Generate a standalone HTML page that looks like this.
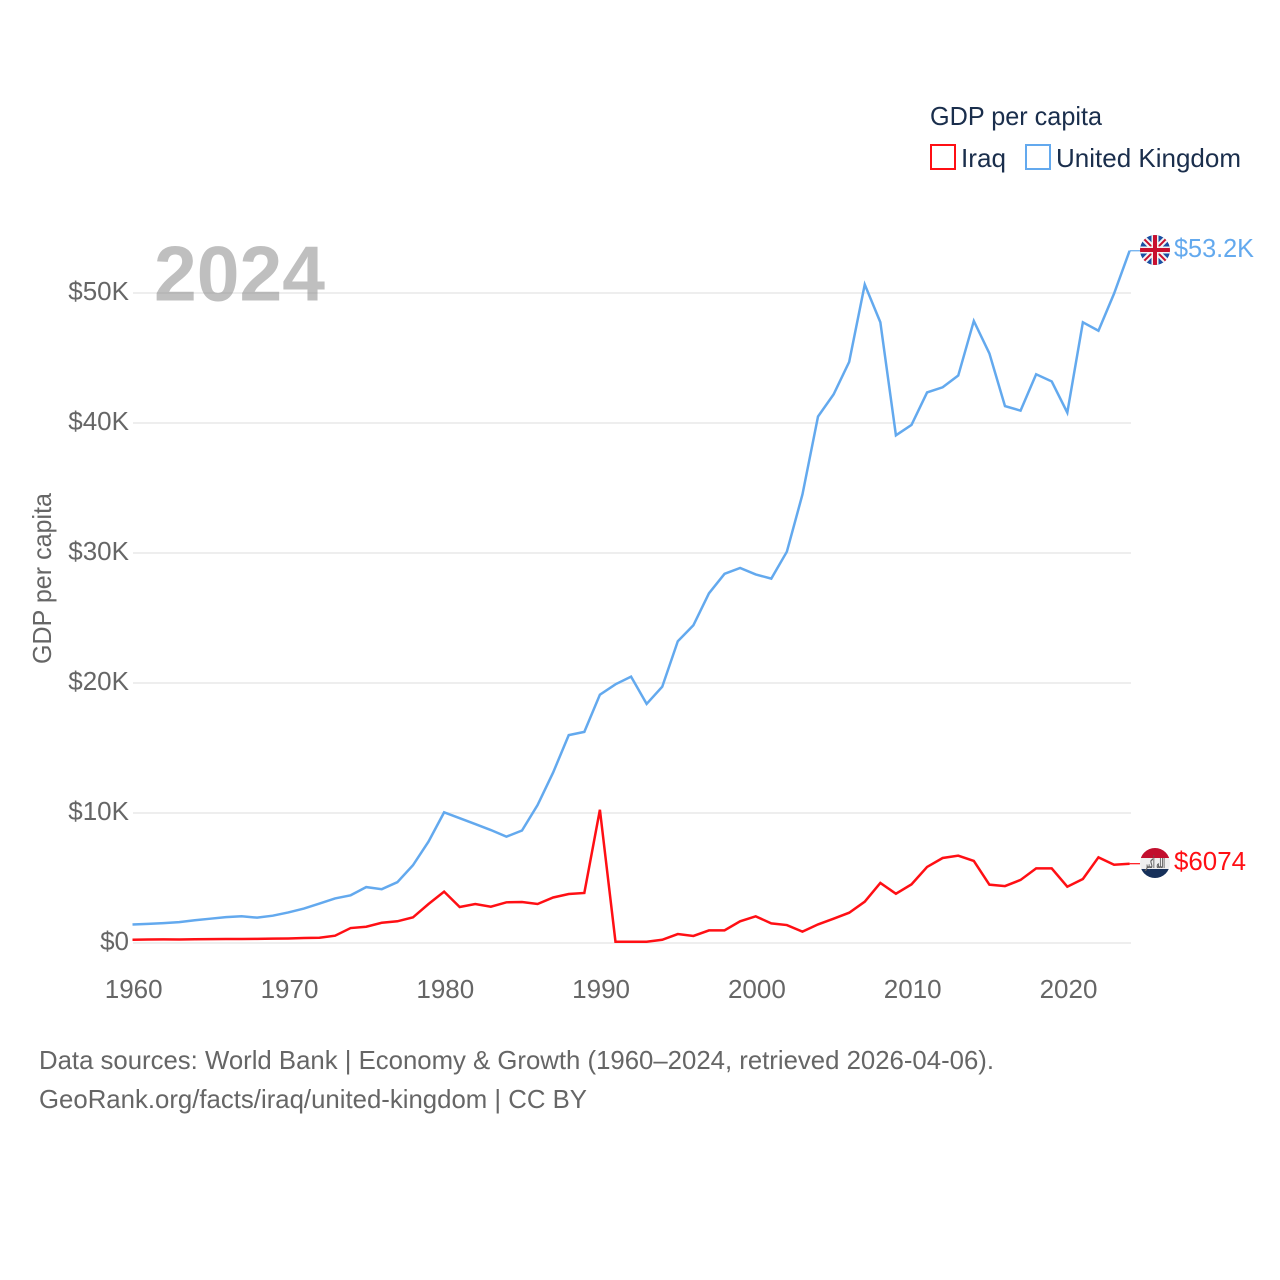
<!DOCTYPE html>
<html lang="en">
<head>
<meta charset="utf-8">
<title>GDP per capita: Iraq and United Kingdom</title>
<style>
  html, body { margin: 0; padding: 0; background: #fff; }
  svg { display: block; font-family: "Liberation Sans", "DejaVu Sans", sans-serif; }
</style>
</head>
<body>
<svg id="chart" xmlns="http://www.w3.org/2000/svg" width="1280" height="1280" viewBox="0 0 1280 1280">
  <defs>
    <clipPath id="uk-clip"><circle cx="1155" cy="250" r="15"/></clipPath>
    <clipPath id="iq-clip"><circle cx="1155" cy="863" r="15"/></clipPath>
  </defs>
  <rect x="0" y="0" width="1280" height="1280" fill="#ffffff"/>
  <g id="grid"></g>
  <g id="y-ticks"></g>
  <g id="x-ticks"></g>
  <text x="154" y="300.5" font-size="78" font-weight="700" fill="#808080" fill-opacity="0.5" textLength="171" lengthAdjust="spacingAndGlyphs">2024</text>
  <text transform="translate(51,578.5) rotate(-90)" text-anchor="middle" font-size="26" fill="#666666" textLength="171" lengthAdjust="spacingAndGlyphs">GDP per capita</text>
  <g id="series"></g>

  <g clip-path="url(#uk-clip)">
    <rect x="1140" y="235" width="30" height="30" fill="#1a4fa3"/>
    <path d="M1140 235 L1170 265 M1170 235 L1140 265" stroke="#f4f4f4" stroke-width="6"/>
    <path d="M1140 235 L1170 265 M1170 235 L1140 265" stroke="#c8102e" stroke-width="2"/>
    <path d="M1155 235 V265 M1140 250 H1170" stroke="#f4f4f4" stroke-width="7"/>
    <path d="M1155 235 V265 M1140 250 H1170" stroke="#c8102e" stroke-width="4"/>
  </g>
  <text x="1174" y="257" font-size="26" fill="#63a9ee" textLength="80" lengthAdjust="spacingAndGlyphs">$53.2K</text>

  <g clip-path="url(#iq-clip)">
    <rect x="1140" y="848" width="30" height="10" fill="#c20f2e"/>
    <rect x="1140" y="858" width="30" height="11" fill="#efefef"/>
    <rect x="1140" y="869" width="30" height="10" fill="#16305a"/>
    <text x="1155" y="868" text-anchor="middle" font-size="13" font-weight="700" fill="#5f5f5f" font-family="'DejaVu Sans', sans-serif" textLength="20" lengthAdjust="spacingAndGlyphs">الله أكبر</text>
  </g>
  <text x="1174" y="870" font-size="26" fill="#ff0f14" textLength="72" lengthAdjust="spacingAndGlyphs">$6074</text>

  <g>
    <text x="930" y="125" font-size="26" fill="#1a2e4c" textLength="172" lengthAdjust="spacingAndGlyphs">GDP per capita</text>
    <g>
      <rect x="931" y="145" width="24" height="24" fill="none" stroke="#ff0f14" stroke-width="2"/>
      <text x="961" y="167" font-size="26" fill="#1a2e4c" textLength="45" lengthAdjust="spacingAndGlyphs">Iraq</text>
    </g>
    <g>
      <rect x="1026" y="145" width="24" height="24" fill="none" stroke="#63a9ee" stroke-width="2"/>
      <text x="1056" y="167" font-size="26" fill="#1a2e4c" textLength="185" lengthAdjust="spacingAndGlyphs">United Kingdom</text>
    </g>
  </g>

  <text x="39" y="1069" font-size="26" fill="#666666" textLength="955" lengthAdjust="spacingAndGlyphs">Data sources: World Bank | Economy &amp; Growth (1960–2024, retrieved 2026-04-06).</text>
  <text x="39" y="1108" font-size="26" fill="#666666" textLength="548" lengthAdjust="spacingAndGlyphs">GeoRank.org/facts/iraq/united-kingdom | CC BY</text>
</svg>
<script>
const years = [1960,1961,1962,1963,1964,1965,1966,1967,1968,1969,1970,1971,1972,1973,1974,1975,1976,1977,1978,1979,1980,1981,1982,1983,1984,1985,1986,1987,1988,1989,1990,1991,1992,1993,1994,1995,1996,1997,1998,1999,2000,2001,2002,2003,2004,2005,2006,2007,2008,2009,2010,2011,2012,2013,2014,2015,2016,2017,2018,2019,2020,2021,2022,2023,2024];
const ukValues = [1.42,1.47,1.53,1.61,1.75,1.87,1.99,2.06,1.95,2.10,2.35,2.65,3.03,3.43,3.67,4.30,4.14,4.68,5.98,7.80,10.05,9.60,9.15,8.69,8.18,8.65,10.61,13.12,15.99,16.24,19.10,19.90,20.49,18.39,19.71,23.21,24.44,26.90,28.40,28.85,28.35,28.03,30.10,34.50,40.50,42.20,44.70,50.65,47.75,39.05,39.85,42.35,42.75,43.65,47.85,45.35,41.30,40.95,43.75,43.20,40.80,47.75,47.10,49.95,53.25];
const iraqValues = [0.25,0.27,0.28,0.27,0.29,0.30,0.31,0.31,0.32,0.34,0.35,0.38,0.40,0.56,1.15,1.25,1.56,1.67,1.97,3.00,3.95,2.77,3.00,2.79,3.13,3.15,3.00,3.50,3.77,3.85,10.25,0.10,0.10,0.10,0.25,0.69,0.54,0.97,0.97,1.67,2.05,1.51,1.38,0.87,1.43,1.87,2.33,3.18,4.62,3.79,4.51,5.85,6.54,6.72,6.31,4.49,4.38,4.85,5.74,5.74,4.33,4.92,6.59,6.02,6.10];
const xTickLabels = [1960,1970,1980,1990,2000,2010,2020];
const yTickValues = [0,10,20,30,40,50];

const NS = 'http://www.w3.org/2000/svg';
const xScale = function (year) { return 132.5 + (year - 1960) * 15.58; };
const yScale = function (value) { return 943 - value * 13; };

function svgEl(tag, parentId) {
  const el = document.createElementNS(NS, tag);
  document.getElementById(parentId).appendChild(el);
  return el;
}

yTickValues.forEach(function (v) {
  const line = svgEl('line', 'grid');
  
  
  line.setAttribute('x1', 133);
  line.setAttribute('x2', 1131);
  line.setAttribute('y1', yScale(v));
  line.setAttribute('y2', yScale(v));
  line.setAttribute('stroke', '#eeeeee');
  line.setAttribute('stroke-width', 2);

  const label = svgEl('text', 'y-ticks');
  
  
  label.setAttribute('x', 129);
  label.setAttribute('y', yScale(v) + 7);
  label.setAttribute('text-anchor', 'end');
  label.setAttribute('font-size', 26);
  label.setAttribute('fill', '#666666');
  label.textContent = v === 0 ? '$0' : '$' + v + 'K';
});

xTickLabels.forEach(function (y) {
  const label = svgEl('text', 'x-ticks');
  
  
  label.setAttribute('x', xScale(y) + 1.2);
  label.setAttribute('y', 998);
  label.setAttribute('text-anchor', 'middle');
  label.setAttribute('font-size', 26);
  label.setAttribute('fill', '#666666');
  label.textContent = y;
});

function drawSeries(values, color, name) {
  const pts = values.map(function (v, i) { return xScale(years[i]).toFixed(2) + ',' + yScale(v).toFixed(2); });
  const path = svgEl('polyline', 'series');
  
  
  path.setAttribute('points', pts.join(' '));
  path.setAttribute('fill', 'none');
  path.setAttribute('stroke', color);
  path.setAttribute('stroke-width', 2.5);
  path.setAttribute('stroke-linejoin', 'miter');

  const last = values[values.length - 1];
  const leader = svgEl('line', 'series');
  
  
  leader.setAttribute('x1', xScale(years[years.length - 1]));
  leader.setAttribute('x2', 1140);
  leader.setAttribute('y1', yScale(last));
  leader.setAttribute('y2', yScale(last));
  leader.setAttribute('stroke', color);
  leader.setAttribute('stroke-width', 1.2);
}

drawSeries(ukValues, '#63a9ee', 'united-kingdom');
drawSeries(iraqValues, '#ff0f14', 'iraq');
</script>
</body>
</html>
